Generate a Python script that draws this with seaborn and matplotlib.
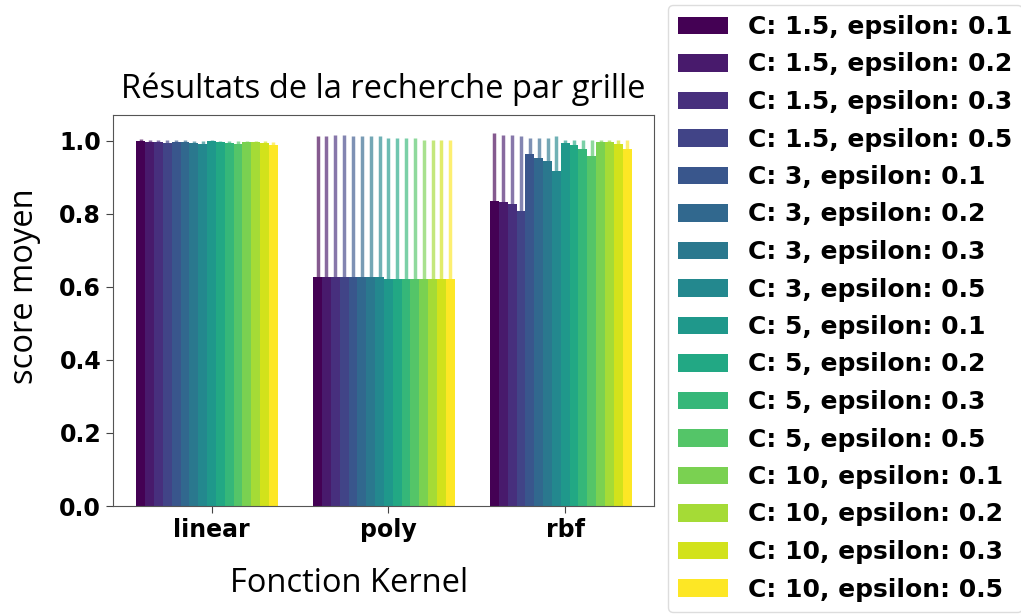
import numpy as np
import pandas as pd
import matplotlib
matplotlib.use("Agg")
import matplotlib.pyplot as plt
import seaborn as sns

# grid search results (mean score and std per kernel / parameter set)
kernels = ["linear", "poly", "rbf"]
params = [
    "C: 1.5, epsilon: 0.1", "C: 1.5, epsilon: 0.2", "C: 1.5, epsilon: 0.3", "C: 1.5, epsilon: 0.5",
    "C: 3, epsilon: 0.1", "C: 3, epsilon: 0.2", "C: 3, epsilon: 0.3", "C: 3, epsilon: 0.5",
    "C: 5, epsilon: 0.1", "C: 5, epsilon: 0.2", "C: 5, epsilon: 0.3", "C: 5, epsilon: 0.5",
    "C: 10, epsilon: 0.1", "C: 10, epsilon: 0.2", "C: 10, epsilon: 0.3", "C: 10, epsilon: 0.5",
]
linear_mean = [0.999, 0.997, 0.996, 0.993, 0.997, 0.996, 0.994, 0.991,
               0.998, 0.996, 0.994, 0.991, 0.997, 0.996, 0.994, 0.988]
linear_std = [0.004, 0.005, 0.006, 0.008, 0.004, 0.005, 0.006, 0.008,
              0.003, 0.004, 0.005, 0.008, 0.003, 0.004, 0.005, 0.008]
poly_mean = [0.627, 0.627, 0.627, 0.627, 0.627, 0.627, 0.627, 0.627,
             0.622, 0.622, 0.622, 0.622, 0.622, 0.622, 0.622, 0.622]
poly_std = [0.385, 0.385, 0.389, 0.389, 0.385, 0.385, 0.385, 0.385,
            0.384, 0.384, 0.384, 0.384, 0.380, 0.380, 0.380, 0.380]
rbf_mean = [0.836, 0.831, 0.826, 0.806, 0.964, 0.953, 0.944, 0.918,
            0.993, 0.989, 0.977, 0.959, 0.997, 0.997, 0.991, 0.977]
rbf_std = [0.185, 0.185, 0.190, 0.207, 0.043, 0.054, 0.063, 0.095,
           0.009, 0.013, 0.025, 0.043, 0.004, 0.004, 0.011, 0.025]

means = {"linear": linear_mean, "poly": poly_mean, "rbf": rbf_mean}
stds = {"linear": linear_std, "poly": poly_std, "rbf": rbf_std}

rows = []
for k in kernels:
    for i, p in enumerate(params):
        rows.append({"kernel": k, "params": p, "score": means[k][i], "std": stds[k][i]})
df = pd.DataFrame(rows)

colors = [matplotlib.colors.to_hex(c) for c in plt.cm.viridis(np.linspace(0, 1, len(params)))]

fig = plt.figure(figsize=(10.21, 6.16), dpi=100)
ax = fig.add_axes([113 / 1021, 110 / 616, 541 / 1021, 391 / 616])

sns.barplot(data=df, x="kernel", y="score", hue="params", order=kernels,
            hue_order=params, palette=colors, errorbar=None, width=0.8,
            saturation=1, ax=ax)

# error bars in the bar colour, a bit transparent
bar_containers = list(ax.containers)
for j, cont in enumerate(bar_containers):
    for k, bar in zip(kernels, cont):
        xc = bar.get_x() + bar.get_width() / 2
        ax.errorbar(xc, bar.get_height(), yerr=stds[k][j], color=colors[j],
                    alpha=0.65, lw=2.5, capsize=0, fmt="none")

# ticks sit half a bar to the right of the group centre, like in the original
half_bar = 0.8 / len(params) / 2
ax.set_xticks(np.arange(len(kernels)) + half_bar, kernels)
ax.set_xlim(-0.532, 2.527)
ax.set_ylim(0, 1.07)
ax.set_yticks([0.0, 0.2, 0.4, 0.6, 0.8, 1.0])

for s in ax.spines.values():
    s.set_color("#555555")
ax.tick_params(color="#444444", length=5, labelcolor="black")
for lab in ax.get_xticklabels() + ax.get_yticklabels():
    lab.set_fontweight("bold")
    lab.set_fontsize(17)

ax.set_title("Résultats de la recherche par grille", fontsize=23.5,
             family="Open Sans", pad=12)
ax.set_xlabel("Fonction Kernel", fontsize=23.5, family="Open Sans", labelpad=18)
ax.set_ylabel("score moyen", fontsize=23.5, family="Open Sans", labelpad=13)
# labels are not centred on the axes in the original
ax.xaxis.label.set_x(0.436)
ax.yaxis.label.set_y(0.561)

handles, labels = ax.get_legend_handles_labels()
ax.get_legend().remove()
fig.legend(handles, labels, loc="upper left", bbox_to_anchor=(668 / 1021, 1 - 5 / 616),
           prop={"weight": "bold", "size": 18}, labelspacing=0.54,
           handlelength=2.0, borderpad=0.4, borderaxespad=0, framealpha=1,
           edgecolor="#dddddd")

fig.savefig("out.png", dpi=100)
